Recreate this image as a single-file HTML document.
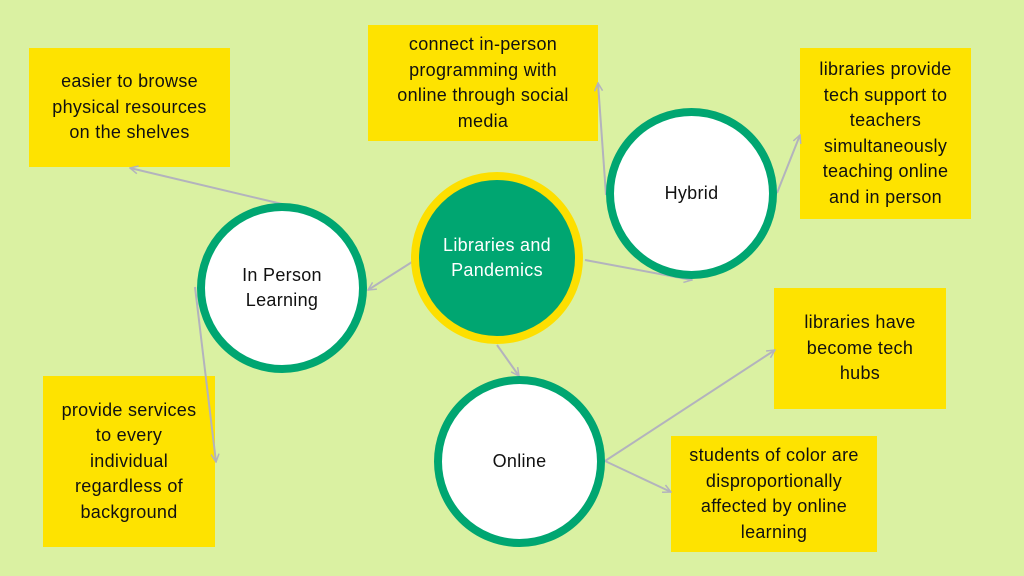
<!DOCTYPE html>
<html><head><meta charset="utf-8"><style>
body{margin:0;width:1024px;height:576px;background:#daf1a2;position:relative;overflow:hidden;font-family:"Liberation Sans",sans-serif;}
.b{position:absolute;background:#fee300;color:#111;font-size:18px;line-height:25.5px;text-align:center;display:flex;align-items:center;justify-content:center;box-sizing:border-box;padding:4px 4px;white-space:nowrap;letter-spacing:0.3px;}
.c{position:absolute;border-radius:50%;box-sizing:border-box;display:flex;align-items:center;justify-content:center;text-align:center;font-size:18px;line-height:25.5px;color:#111;letter-spacing:0.3px;}
.w{background:#fff;border:8px solid #00a671;}
svg{position:absolute;left:0;top:0}
</style></head><body>
<div class="b" style="left:29px;top:48px;width:201px;height:119px;">easier to browse<br>physical resources<br>on the shelves</div>
<div class="b" style="left:368px;top:25px;width:230px;height:116px;">connect in-person<br>programming with<br>online through social<br>media</div>
<div class="b" style="left:800px;top:48px;width:171px;height:171px;">libraries provide<br>tech support to<br>teachers<br>simultaneously<br>teaching online<br>and in person</div>
<div class="b" style="left:774px;top:288px;width:172px;height:121px;">libraries have<br>become tech<br>hubs</div>
<div class="b" style="left:671px;top:436px;width:206px;height:116px;">students of color are<br>disproportionally<br>affected by online<br>learning</div>
<div class="b" style="left:43px;top:376px;width:172px;height:171px;">provide services<br>to every<br>individual<br>regardless of<br>background</div>
<svg width="1024" height="576"><defs><marker id="a" markerWidth="10" markerHeight="10" refX="9" refY="5" orient="auto" markerUnits="userSpaceOnUse"><path d="M1,1 L9,5 L1,9" fill="none" stroke="#b3b3bd" stroke-width="1.5"/></marker></defs>
<g stroke="#b3b3bd" stroke-width="2" fill="none" marker-end="url(#a)">
<line x1="412" y1="262" x2="368" y2="290"/>
<line x1="282" y1="204" x2="130" y2="168"/>
<line x1="195" y1="287" x2="216" y2="462"/>
<line x1="585" y1="260" x2="692" y2="280"/>
<line x1="497" y1="345" x2="519" y2="376"/>
<line x1="606" y1="195" x2="598" y2="83"/>
<line x1="777" y1="193" x2="800" y2="135"/>
<line x1="605" y1="461" x2="775" y2="350"/>
<line x1="605" y1="461" x2="671" y2="492"/>
</g></svg>
<div class="c" style="left:411px;top:172px;width:172px;height:172px;background:#00a671;border:8px solid #fddf00;color:#fff;">Libraries and<br>Pandemics</div>
<div class="c w" style="left:197px;top:203px;width:170px;height:170px;">In Person<br>Learning</div>
<div class="c w" style="left:606px;top:108px;width:171px;height:171px;">Hybrid</div>
<div class="c w" style="left:434px;top:376px;width:171px;height:171px;">Online</div>
</body></html>
